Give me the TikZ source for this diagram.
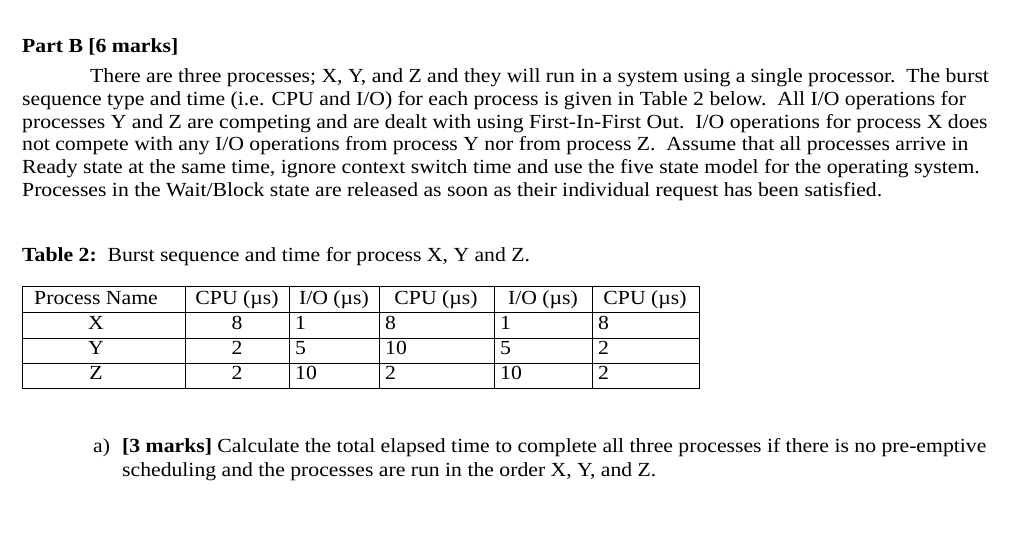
\documentclass[tikz,border=0pt]{standalone}
\usepackage{fontspec}
\setmainfont{Liberation Serif}
\newcommand{\wdx}[1]{\scalebox{1.085}[1]{#1}}
\begin{document}
\begin{tikzpicture}[x=1pt,y=-1pt,
  txt/.style={anchor=base west,inner sep=0pt,font=\fontsize{20}{22}\selectfont},
  cell/.style={anchor=base,inner sep=0pt,font=\fontsize{20}{22}\selectfont},
  cellL/.style={anchor=base west,inner sep=0pt,font=\fontsize{20}{22}\selectfont},
  grid/.style={line width=0.9pt}]
\useasboundingbox (0,0) rectangle (1024,536);
\node[txt] (h) at (22,52) {\wdx{\textbf{Part B [6 marks]}}};
\node[txt] (l1) at (90,82) {\wdx{There are three processes; X, Y, and Z and they will run in a system using a single processor.\ \ The burst}};
\node[txt] (l2) at (22,105) {\wdx{sequence type and time (i.e. CPU and I/O) for each process is given in Table 2 below.\ \ All I/O operations for}};
\node[txt] (l3) at (22,128) {\wdx{processes Y and Z are competing and are dealt with using First-In-First Out.\ \ I/O operations for process X does}};
\node[txt] (l4) at (22,150) {\wdx{not compete with any I/O operations from process Y nor from process Z.\ \ Assume that all processes arrive in}};
\node[txt] (l5) at (22,173) {\wdx{Ready state at the same time, ignore context switch time and use the five state model for the operating system.}};
\node[txt] (l6) at (22,196) {\wdx{Processes in the Wait/Block state are released as soon as their individual request has been satisfied.}};
\node[txt] (cap) at (22,261) {\wdx{\textbf{Table 2:}\ \ Burst sequence and time for process X, Y and Z.}};
% table
\draw[grid] (22,286) rectangle (699,388);
\foreach \y in {312,338,363} \draw[grid] (22,\y) -- (699,\y);
\foreach \x in {185,289,379,494,592} \draw[grid] (\x,286) -- (\x,388);
\node[cell] (t00) at (96,304) {\wdx{Process Name}};
\node[cell] (t01) at (237,304) {\wdx{CPU (µs)}};
\node[cell] (t02) at (334,304) {\wdx{I/O (µs)}};
\node[cell] (t03) at (436,304) {\wdx{CPU (µs)}};
\node[cell] (t04) at (543,304) {\wdx{I/O (µs)}};
\node[cell] (t05) at (645,304) {\wdx{CPU (µs)}};
\foreach \n/\a/\b/\c/\d/\e [count=\i] in {X/8/1/8/1/8,Y/2/5/10/5/2,Z/2/10/2/10/2}{
  \pgfmathsetmacro\yy{304+25.3*\i}
  \node[cell] (r\i n) at (96,\yy) {\wdx{\n}};
  \node[cell] (r\i a) at (237,\yy) {\wdx{\a}};
  \node[cellL] (r\i b) at (295,\yy) {\wdx{\b}};
  \node[cellL] (r\i c) at (385,\yy) {\wdx{\c}};
  \node[cellL] (r\i d) at (500,\yy) {\wdx{\d}};
  \node[cellL] (r\i e) at (598,\yy) {\wdx{\e}};
}
\node[txt] (qa) at (93,452) {\wdx{a)}};
\node[txt] (q1) at (122,452) {\wdx{\textbf{[3 marks]} Calculate the total elapsed time to complete all three processes if there is no pre-emptive}};
\node[txt] (q2) at (122,476) {\wdx{scheduling and the processes are run in the order X, Y, and Z.}};
\end{tikzpicture}
\end{document}
